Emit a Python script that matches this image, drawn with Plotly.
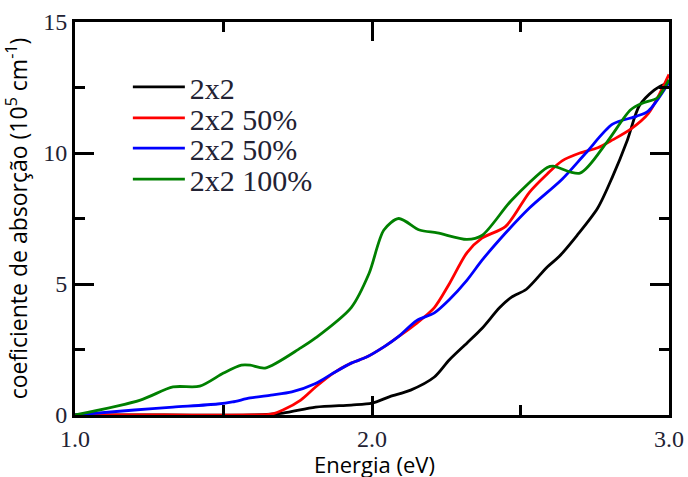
import plotly.graph_objects as go

# Energia (eV) and absorption coefficient (10^5 cm^-1)
x_black = [1.0, 1.3, 1.6, 1.70, 1.81, 1.93, 2.0, 2.06, 2.13, 2.21, 2.26, 2.32, 2.37, 2.43, 2.47, 2.52, 2.59, 2.63, 2.69, 2.76, 2.81, 2.86, 2.90, 2.95, 2.98, 3.0]
y_black = [0.0, 0.0, 0.0, 0.07, 0.3, 0.38, 0.45, 0.7, 0.95, 1.45, 2.1, 2.75, 3.3, 4.1, 4.5, 4.8, 5.65, 6.05, 6.85, 7.9, 9.1, 10.5, 11.8, 12.4, 12.6, 12.7]

x_red = [1.0, 1.3, 1.6, 1.66, 1.70, 1.76, 1.81, 1.87, 1.93, 1.98, 2.04, 2.09, 2.15, 2.21, 2.26, 2.32, 2.37, 2.45, 2.53, 2.59, 2.64, 2.70, 2.76, 2.81, 2.87, 2.93, 3.0]
y_red = [0.0, 0.0, 0.0, 0.03, 0.19, 0.57, 1.07, 1.6, 1.98, 2.2, 2.6, 3.0, 3.5, 4.1, 5.0, 6.2, 6.75, 7.2, 8.5, 9.2, 9.7, 10.0, 10.2, 10.5, 10.9, 11.5, 13.0]

x_blue = [1.0, 1.2, 1.33, 1.48, 1.53, 1.59, 1.66, 1.73, 1.81, 1.87, 1.93, 1.98, 2.04, 2.09, 2.15, 2.21, 2.26, 2.32, 2.37, 2.43, 2.53, 2.64, 2.72, 2.81, 2.89, 2.93, 3.0]
y_blue = [0.0, 0.19, 0.3, 0.42, 0.5, 0.65, 0.76, 0.88, 1.2, 1.6, 1.98, 2.2, 2.6, 3.0, 3.6, 3.9, 4.4, 5.15, 5.9, 6.7, 7.9, 9.0, 10.0, 11.1, 11.4, 11.6, 12.7]

x_green = [1.0, 1.22, 1.33, 1.42, 1.50, 1.56, 1.59, 1.64, 1.76, 1.81, 1.93, 1.99, 2.04, 2.09, 2.16, 2.22, 2.32, 2.37, 2.47, 2.59, 2.61, 2.70, 2.79, 2.87, 2.91, 2.96, 3.0]
y_green = [0.0, 0.57, 1.07, 1.1, 1.6, 1.9, 1.9, 1.79, 2.56, 2.94, 4.1, 5.4, 7.06, 7.5, 7.06, 6.95, 6.7, 6.85, 8.2, 9.45, 9.5, 9.23, 10.4, 11.64, 11.9, 12.1, 12.8]

series_names = ["2x2", "2x2 50%", "2x2 50%", "2x2 100%"]
series_x = [x_black, x_red, x_blue, x_green]
series_y = [y_black, y_red, y_blue, y_green]
series_colors = ["black", "#ff0000", "#0000ff", "#008000"]

x_ticks = [1.0, 2.0, 3.0]
x_ticklabels = ["1.0", "2.0", "3.0"]
y_ticks = [0, 5, 10, 15]

x_title = "Energia (eV)"
y_title = "coeficiente de absorção (10<sup>5</sup> cm<sup>-1</sup>)"

legend_ids = ["legend", "legend2", "legend3", "legend4"]
legend_rows_y = [0.835, 0.756, 0.679, 0.600]

fig = go.Figure()
for name, xs, ys, col, lg in zip(series_names, series_x, series_y, series_colors, legend_ids):
    fig.add_trace(go.Scatter(
        x=xs, y=ys, name=name, mode="lines",
        line=dict(color=col, width=2.8, shape="spline", smoothing=0.8),
        legend=lg,
    ))

serif = "Liberation Serif, Times New Roman, serif"
sans = "Open Sans, sans-serif"
tick_font = dict(family=serif, size=24, color="#222233")
axis_common = dict(
    showline=True, linecolor="black", linewidth=3, mirror="allticks",
    ticks="inside", ticklen=19, tickwidth=3, tickcolor="black",
    showgrid=False, zeroline=False, tickfont=tick_font, automargin=False,
)

fig.update_xaxes(
    range=[1.0, 3.0], tickvals=x_ticks, ticktext=x_ticklabels,
    minor=dict(ticks="inside", ticklen=10, tickwidth=3, tickcolor="black", dtick=0.5, tick0=1.0, showgrid=False),
    **axis_common,
)
fig.update_yaxes(
    range=[0, 15], tickvals=y_ticks,
    minor=dict(ticks="inside", ticklen=10, tickwidth=3, tickcolor="black", dtick=2.5, tick0=0, showgrid=False),
    title=dict(text=y_title, font=dict(family=sans, size=23, color="black")),
    **axis_common,
)

fig.add_annotation(
    text=x_title, xref="paper", yref="paper", x=0.505, y=-0.125,
    xanchor="center", yanchor="middle", showarrow=False, borderpad=0,
    font=dict(family=sans, size=22, color="black"),
)

legend_style = dict(
    x=0.089, xanchor="left", yanchor="middle",
    font=dict(family=serif, size=30, color="#222233"),
    bgcolor="rgba(0,0,0,0)", itemwidth=52,
)
layout_legends = {lg: dict(y=yy, **legend_style) for lg, yy in zip(legend_ids, legend_rows_y)}

fig.update_layout(
    width=688, height=477,
    margin=dict(l=75, r=19, t=22, b=62),
    paper_bgcolor="white", plot_bgcolor="white",
    showlegend=True,
    **layout_legends,
)

fig.write_html("out.html", config={"displayModeBar": False},
               post_script="document.body.style.margin='0';")
